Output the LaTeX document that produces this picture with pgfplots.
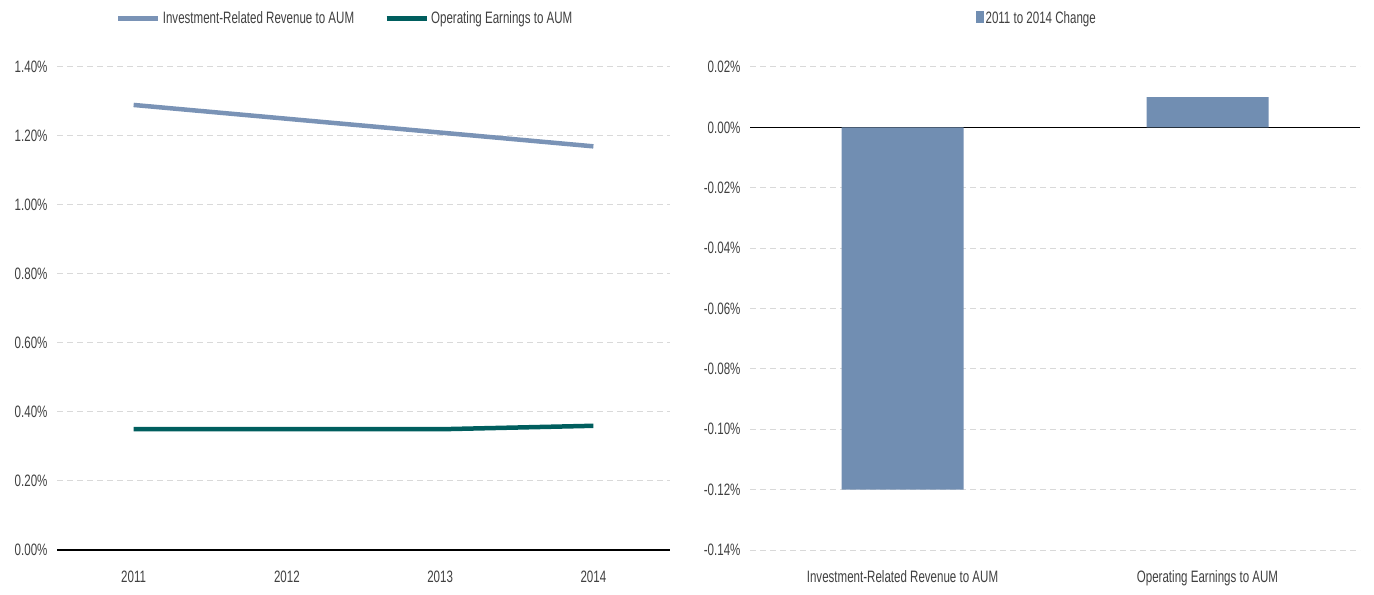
\documentclass[border=0pt]{standalone}
\usepackage{pgfplots}
\pgfplotsset{compat=1.18}
\usepackage{fontspec}
\setmainfont{Liberation Sans}[FakeStretch=0.70]
\definecolor{invc}{HTML}{7A93B6}
\definecolor{opc}{HTML}{005E5E}
\definecolor{barc}{HTML}{718EB2}
\definecolor{txt}{HTML}{404040}
\definecolor{gridc}{HTML}{D9D9D9}
\pgfplotsset{
  common/.style={
    scale only axis, width=613bp, height=483bp,
    axis line style={draw=none}, tick style={draw=none},
    ymajorgrids,
    major grid style={draw=gridc, line width=1bp, dash pattern=on 6bp off 4bp},
    tick label style={font=\fontsize{16.5bp}{18bp}\selectfont, text=txt},
    yticklabel style={xshift=-6bp},
    xticklabel style={yshift=-17bp},
    extra y ticks={0}, extra y tick labels={},
    legend style={draw=none, fill=none, font=\fontsize{16.5bp}{18bp}\selectfont, text=txt},
  }
}
\begin{document}
\begin{tikzpicture}
\useasboundingbox (0,0) rectangle (1374bp,595bp);
\begin{axis}[common, at={(57bp,45bp)}, anchor=south west,
  xmin=2010.5, xmax=2014.5,
  xtick={2011,2012,2013,2014}, xticklabels={2011,2012,2013,2014},
  ymin=0, ymax=1.4,
  ytick={0,0.2,0.4,0.6,0.8,1.0,1.2,1.4},
  yticklabels={0.00\%,0.20\%,0.40\%,0.60\%,0.80\%,1.00\%,1.20\%,1.40\%},
  extra y tick style={major grid style={draw=black, solid, line width=1.8bp}},
  legend columns=2,
  legend style={at={(0.47,1)}, anchor=south, yshift=38bp,
    /tikz/every even column/.append style={column sep=28bp}},
  legend image code/.code={\draw[#1, line width=5bp] (0bp,0bp) -- (40bp,0bp);},
]
\addplot[invc, line width=4.5bp] coordinates {(2011,1.29) (2012,1.25) (2013,1.21) (2014,1.17)};
\addlegendentry{Investment-Related Revenue to AUM}
\addplot[opc, line width=4.5bp] coordinates {(2011,0.35) (2012,0.35) (2013,0.35) (2014,0.36)};
\addlegendentry{Operating Earnings to AUM}
\end{axis}
\begin{axis}[common, width=610bp, at={(750bp,45bp)}, anchor=south west,
  xmin=-0.5, xmax=1.5,
  xtick={0,1}, xticklabels={Investment-Related Revenue to AUM, Operating Earnings to AUM},
  ymin=-0.14, ymax=0.02,
  ytick={-0.14,-0.12,-0.10,-0.08,-0.06,-0.04,-0.02,0,0.02},
  yticklabels={-0.14\%,-0.12\%,-0.10\%,-0.08\%,-0.06\%,-0.04\%,-0.02\%,0.00\%,0.02\%},
  extra y tick style={major grid style={draw=black, solid, line width=1.1bp}},
  legend style={at={(0.47,1)}, anchor=south, yshift=38bp},
  legend image code/.code={\fill[#1] (0bp,-5bp) rectangle (8bp,7bp);},
]
\addplot[ybar, bar width=0.4, fill=barc, draw=none, bar shift=0] coordinates {(0,-0.12) (1,0.01)};
\addlegendentry{2011 to 2014 Change}
\end{axis}
\end{tikzpicture}
\end{document}
